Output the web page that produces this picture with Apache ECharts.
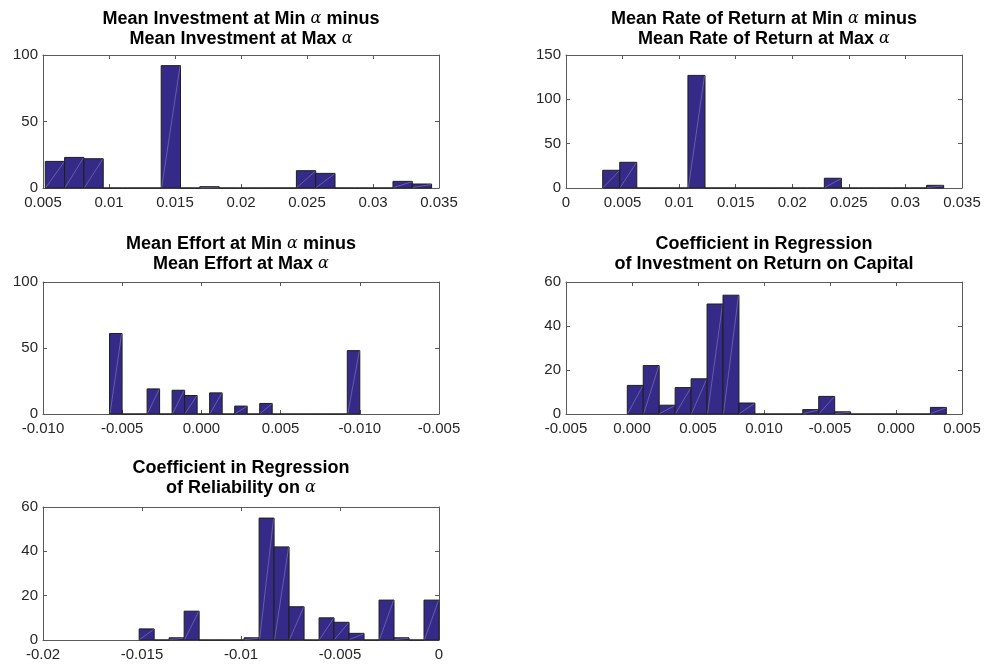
<!DOCTYPE html>
<html><head><meta charset="utf-8">
<script src="https://cdn.jsdelivr.net/npm/echarts@6/dist/echarts.min.js"></script>
<style>html,body{margin:0;padding:0;background:#fff}#c{width:987px;height:671px}</style>
</head><body><div id="c"></div>
<script>
// ---------- DATA ----------
// Panel 1: Mean Investment
const p1Counts = [20, 23, 22, 0, 0, 0, 92, 0, 1, 0, 0, 0, 0, 13, 11, 0, 0, 0, 5, 3];
const p1BinRange = [0.005174, 0.03444];
const p1XRange = [0.005, 0.035];
const p1XTicks = ['0.005', '0.01', '0.015', '0.02', '0.025', '0.03', '0.035'];
const p1YRange = [0, 100];
const p1YStep = 50;

// Panel 2: Mean Rate of Return
const p2Counts = [20, 29, 0, 0, 0, 127, 0, 0, 0, 0, 0, 0, 0, 11, 0, 0, 0, 0, 0, 3];
const p2BinRange = [0.003243, 0.03338];
const p2XRange = [0, 0.035];
const p2XTicks = ['0', '0.005', '0.01', '0.015', '0.02', '0.025', '0.03', '0.035'];
const p2YRange = [0, 150];
const p2YStep = 50;

// Panel 3: Mean Effort
const p3Counts = [61, 0, 0, 19, 0, 18, 14, 0, 16, 0, 6, 0, 8, 0, 0, 0, 0, 0, 0, 48];
const p3BinRange = [-0.005798, 0.0100];
const p3XRange = [-0.010, 0.015];
const p3XTicks = ['-0.010', '-0.005', '0.000', '0.005', '-0.010', '-0.005'];
const p3YRange = [0, 100];
const p3YStep = 50;

// Panel 4: Coefficient, Investment on Return on Capital
const p4Counts = [13, 22, 4, 12, 16, 50, 54, 5, 0, 0, 0, 2, 8, 1, 0, 0, 0, 0, 0, 3];
const p4BinRange = [-0.000357, 0.023814];
const p4XRange = [-0.005, 0.025];
const p4XTicks = ['-0.005', '0.000', '0.005', '0.010', '-0.005', '0.000', '0.005'];
const p4YRange = [0, 60];
const p4YStep = 20;

// Panel 5: Coefficient, Reliability on alpha
const p5Counts = [5, 0, 1, 13, 0, 0, 0, 1, 55, 42, 15, 0, 10, 8, 3, 0, 18, 1, 0, 18];
const p5BinRange = [-0.015143, 0];
const p5XRange = [-0.02, 0];
const p5XTicks = ['-0.02', '-0.015', '-0.01', '-0.005', '0'];
const p5YRange = [0, 60];
const p5YStep = 20;

const titles = [
  ['Mean Investment at Min ', ' minus', 'Mean Investment at Max ', ''],
  ['Mean Rate of Return at Min ', ' minus', 'Mean Rate of Return at Max ', ''],
  ['Mean Effort at Min ', ' minus', 'Mean Effort at Max ', ''],
  null,
  null
];
const plainTitles = [null, null, null,
  ['Coefficient in Regression', 'of Investment on Return on Capital'],
  ['Coefficient in Regression', 'of Reliability on ', '']];

// ---------- LAYOUT ----------
const panels = [
  {counts: p1Counts, bins: p1BinRange, xr: p1XRange, xt: p1XTicks, yr: p1YRange, ys: p1YStep, grid: {left: 43, top: 55, width: 396, height: 133}, titleTop: 9},
  {counts: p2Counts, bins: p2BinRange, xr: p2XRange, xt: p2XTicks, yr: p2YRange, ys: p2YStep, grid: {left: 566, top: 55, width: 396, height: 133}, titleTop: 9},
  {counts: p3Counts, bins: p3BinRange, xr: p3XRange, xt: p3XTicks, yr: p3YRange, ys: p3YStep, grid: {left: 43, top: 282, width: 396, height: 132}, titleTop: 234},
  {counts: p4Counts, bins: p4BinRange, xr: p4XRange, xt: p4XTicks, yr: p4YRange, ys: p4YStep, grid: {left: 566, top: 282, width: 396, height: 132}, titleTop: 234},
  {counts: p5Counts, bins: p5BinRange, xr: p5XRange, xt: p5XTicks, yr: p5YRange, ys: p5YStep, grid: {left: 43, top: 507, width: 396, height: 133}, titleTop: 458}
];

const AX = '#5a5a5a', TXT = '#262626', FONT = '"Liberation Sans", Arial, Helvetica, sans-serif';
const grids = [], xAxes = [], yAxes = [], series = [], titleComps = [];

const richStyles = {
  b: {fontFamily: FONT, fontWeight: 'bold', fontSize: 18, color: '#000', lineHeight: 20},
  a: {fontFamily: '"DejaVu Serif", "Liberation Serif", serif', fontStyle: 'italic', fontWeight: 'normal', fontSize: 16, color: '#000', lineHeight: 20}
};

panels.forEach((p, i) => {
  grids.push(Object.assign({containLabel: false}, p.grid));
  const interval = (p.xr[1] - p.xr[0]) / (p.xt.length - 1);
  const fmt = v => p.xt[Math.round((v - p.xr[0]) / interval)] ?? '';
  const common = {type: 'value', gridIndex: i, min: p.xr[0], max: p.xr[1], interval: interval,
    splitLine: {show: false},
    axisLine: {show: true, onZero: false, lineStyle: {color: AX, width: 1}},
    axisTick: {show: true, inside: true, length: 4, lineStyle: {color: AX}}};
  xAxes.push(Object.assign({}, common, {position: 'bottom',
    axisLabel: {show: true, formatter: fmt, color: TXT, fontSize: 15, fontFamily: FONT, margin: 7, showMinLabel: true, showMaxLabel: true, hideOverlap: false}}));
  xAxes.push(Object.assign({}, common, {position: 'top', axisLabel: {show: false}}));
  const ycommon = {type: 'value', gridIndex: i, min: p.yr[0], max: p.yr[1], interval: p.ys,
    splitLine: {show: false},
    axisLine: {show: true, onZero: false, lineStyle: {color: AX, width: 1}},
    axisTick: {show: true, inside: true, length: 4, lineStyle: {color: AX}}};
  yAxes.push(Object.assign({}, ycommon, {position: 'left',
    axisLabel: {show: true, color: TXT, fontSize: 15, fontFamily: FONT, margin: 5}}));
  yAxes.push(Object.assign({}, ycommon, {position: 'right', axisLabel: {show: false}}));

  const n = p.counts.length;
  const w = (p.bins[1] - p.bins[0]) / n;
  const data = p.counts.map((c, k) => [p.bins[0] + k * w, p.bins[0] + (k + 1) * w, c]);
  series.push({
    type: 'custom', xAxisIndex: i * 2, yAxisIndex: i * 2, data: data, silent: true,
    renderItem: (params, api) => {
      const lo = api.value(0), hi = api.value(1), c = api.value(2);
      const a = api.coord([lo, 0]);
      const b = api.coord([hi, c]);
      const children = [{type: 'rect',
        shape: {x: a[0], y: b[1], width: b[0] - a[0], height: a[1] - b[1]},
        style: {fill: '#352a87', stroke: '#1e1e1e', lineWidth: 1}}];
      if (c > 0) {
        children.push({type: 'line', shape: {x1: a[0] + 0.5, y1: a[1] - 0.5, x2: b[0] - 0.5, y2: b[1] + 0.5},
          style: {stroke: 'rgba(200,200,235,0.55)', lineWidth: 0.6}});
      }
      return {type: 'group', children: children};
    }
  });

  let text;
  if (titles[i]) {
    const t = titles[i];
    text = '{b|' + t[0] + '}{a|α}{b|' + t[1] + '}\n{b|' + t[2] + '}{a|α}';
  } else {
    const t = plainTitles[i];
    text = t.length === 2 ? '{b|' + t[0] + '}\n{b|' + t[1] + '}' : '{b|' + t[0] + '}\n{b|' + t[1] + '}{a|α}';
  }
  titleComps.push({
    text: text, left: p.grid.left + p.grid.width / 2, top: p.titleTop, textAlign: 'center', padding: 0,
    textStyle: {rich: richStyles, fontSize: 18, fontWeight: 'bold', lineHeight: 20, fontFamily: FONT}
  });
});

const chart = echarts.init(document.getElementById('c'), null, {renderer: 'canvas'});
chart.setOption({
  backgroundColor: '#fff',
  animation: false,
  title: titleComps,
  grid: grids,
  xAxis: xAxes,
  yAxis: yAxes,
  series: series
});
</script></body></html>
